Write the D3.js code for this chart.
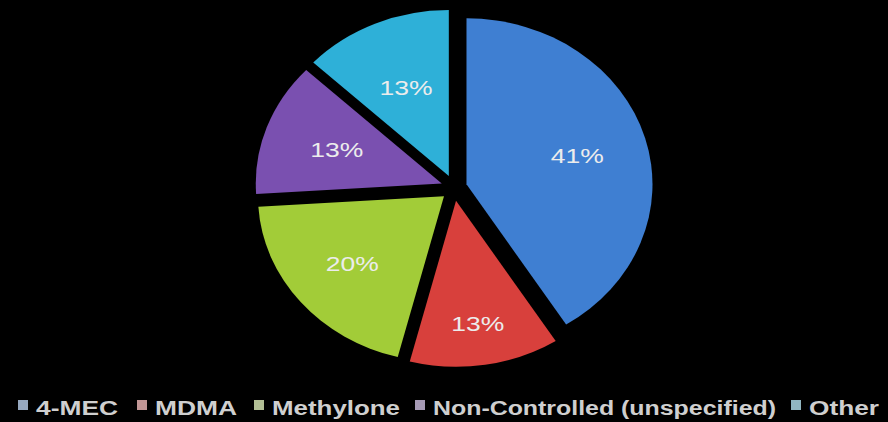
<!DOCTYPE html>
<html>
<head>
<meta charset="utf-8">
<script src="https://cdn.jsdelivr.net/npm/d3@7"></script>
<style>
  html, body { margin: 0; padding: 0; background: #000; }
  svg { display: block; }
</style>
</head>
<body>
<svg id="chart" width="888" height="422"></svg>
<script>
// ---- data ----
const categories = ["4-MEC", "MDMA", "Methylone", "Non-Controlled (unspecified)", "Other"];
const values = [41, 13, 20, 13, 13];
const labels = ["41%", "13%", "20%", "13%", "13%"];
const colors = ["#3f7fd2", "#d8403c", "#a2cc38", "#7a50b0", "#2eb0d8"];

// ---- layout ----
const W = 888, H = 422;
const cx = 454, cy = 188, rx = 186, ry = 166, explode = 13;
const labelR = [0.62, 0.75, 0.64, 0.60, 0.58];

const svg = d3.select("#chart");
svg.append("rect").attr("width", W).attr("height", H).attr("fill", "#000");

const pie = d3.pie().sort(null).value(d => d.v);
const arcs = pie(categories.map((c, i) => ({ c, v: values[i], i })));
const arc = d3.arc().innerRadius(0).outerRadius(rx);

const slices = svg.append("g");
arcs.forEach((a, i) => {
  const mid = (a.startAngle + a.endAngle) / 2;
  const ox = explode * Math.sin(mid), oy = -explode * Math.cos(mid);
  slices.append("g")
    .attr("transform", `translate(${cx + ox},${cy + oy}) scale(1,${ry / rx})`)
    .append("path")
    .attr("d", arc(a))
    .attr("fill", colors[i]);
  const lr = labelR[i];
  const lx = cx + ox + lr * rx * Math.sin(mid);
  const ly = cy + oy - lr * ry * Math.cos(mid);
  svg.append("text")
    .attr("x", lx).attr("y", ly)
    .attr("dy", "0.35em")
    .attr("text-anchor", "middle")
    .attr("font-family", "Liberation Sans, Arial, sans-serif")
    .attr("font-size", 20)
    .attr("fill", "#ececec")
    .attr("textLength", 53)
    .attr("lengthAdjust", "spacingAndGlyphs")
    .text(labels[i]);
});

// ---- legend ----
const legendX = [18, 137, 254, 415, 791];
const legendTextW = [82, 82, 128, 343, 70];
const legend = svg.append("g");
categories.forEach((c, i) => {
  const x = legendX[i];
  legend.append("rect")
    .attr("x", x).attr("y", 400)
    .attr("width", 10).attr("height", 10)
    .attr("fill", d3.interpolateRgb(colors[i], "#b8b8b8")(0.72));
  legend.append("text")
    .attr("x", x + 18).attr("y", 415)
    .attr("font-family", "Liberation Sans, Arial, sans-serif")
    .attr("font-size", 20)
    .attr("font-weight", "bold")
    .attr("fill", "#cfcfcf")
    .attr("textLength", legendTextW[i])
    .attr("lengthAdjust", "spacingAndGlyphs")
    .text(c);
});
</script>
</body>
</html>
